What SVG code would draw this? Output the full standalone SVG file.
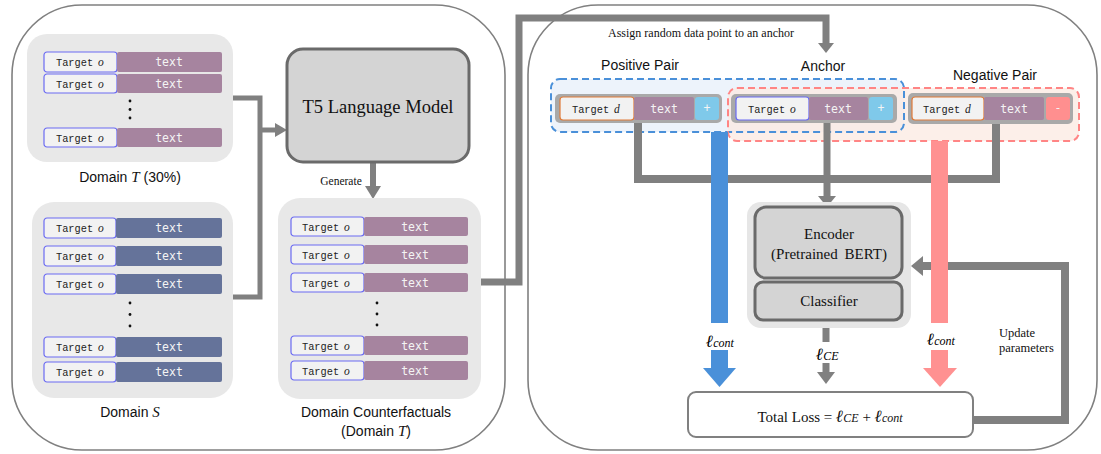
<svg xmlns="http://www.w3.org/2000/svg" width="1101" height="454" viewBox="0 0 1101 454">
<style>
.panel{fill:#fff;stroke:#808080;stroke-width:1.6}
.grp{fill:#e8e8e8}
.tgt{fill:#f2f2f2;stroke:#6b6bf2;stroke-width:1.2}
.tgtd{fill:#f2f2f2;stroke:#e07b39;stroke-width:1.2}
.pt{fill:#a6849f}
.bs{fill:#65739a}
.mono{font-family:"Liberation Mono","DejaVu Sans Mono",monospace;font-size:10.3px;fill:#222}
.it{font-family:"Liberation Serif",serif;font-style:italic;font-size:11.5px}
.wt{font-family:"DejaVu Sans Mono","Liberation Mono",monospace;font-size:11.5px;fill:#f4f4f4;text-anchor:middle}
.sans{font-family:"Liberation Sans",Arial,sans-serif;font-size:14px;fill:#111;text-anchor:middle}
.serif{font-family:"Liberation Serif","Times New Roman",serif;fill:#111;text-anchor:middle}
.conn{fill:none;stroke:#808080;stroke-linejoin:miter}
.ah{fill:#808080}
.model{fill:#d4d4d4;stroke:#6a6a6a;stroke-width:3}
.ell{font-family:"DejaVu Serif","Liberation Serif",serif;font-weight:bold;font-style:italic}
.sub{font-family:"Liberation Serif",serif;font-style:italic}
</style>

<!-- panels -->
<g id="left-panel"><rect class="panel" x="12" y="5" width="493" height="445" rx="70"/></g>
<g id="right-panel"><rect class="panel" x="528" y="5" width="569" height="445" rx="70"/></g>

<!-- pair boxes -->
<g id="pairs">
  <rect x="551" y="79" width="353" height="53" rx="9" fill="#edf3fb"/>
  <rect x="728" y="88" width="351" height="53" rx="9" fill="#fbe9e1" fill-opacity="0.75"/>
  <rect x="551" y="79" width="353" height="53" rx="9" fill="none" stroke="#4a90d9" stroke-width="2" stroke-dasharray="7 4"/>
  <rect x="728" y="88" width="351" height="53" rx="9" fill="none" stroke="#ff8585" stroke-width="2" stroke-dasharray="7 4"/>
  <text class="sans" x="640" y="70">Positive Pair</text>
  <text class="sans" x="823" y="71">Anchor</text>
  <text class="sans" x="995" y="80">Negative Pair</text>
</g>

<!-- connectors -->
<g id="connectors">
  <polyline class="conn" stroke-width="5" points="233,98 260,98 260,297 233,297"/>
  <line class="conn" stroke-width="5" x1="260" y1="130" x2="277" y2="130"/>
  <polygon class="ah" points="287,130 275,123 275,137"/>
  <line class="conn" stroke-width="6" x1="373" y1="162" x2="373" y2="188"/>
  <polygon class="ah" points="373,199 365,186 381,186"/>
  <polyline class="conn" stroke-width="7" points="468,282 519,282 519,18 826,18 826,44"/>
  <polygon class="ah" points="826,53 818,43 834,43"/>
  <polyline class="conn" stroke-width="8" points="638,120 638,179 996,179 996,120"/>
  <line class="conn" stroke-width="7" x1="827" y1="120" x2="827" y2="197"/>
  <polygon class="ah" points="827,207 818,196 836,196"/>
  <line class="conn" stroke-width="7" x1="826" y1="320" x2="826" y2="342"/>
  <line class="conn" stroke-width="7" x1="826" y1="363" x2="826" y2="373"/>
  <polygon class="ah" points="826,384 817,372 835,372"/>
  <polyline class="conn" stroke-width="8" points="973,420 1065,420 1065,266 922,266"/>
  <polygon class="ah" points="911,266 923,256 923,276"/>
  <!-- blue contrastive arrow -->
  <rect x="711" y="132" width="17" height="191" fill="#4a90d9"/>
  <rect x="711" y="350" width="17" height="19" fill="#4a90d9"/>
  <polygon points="703,368 736,368 719.5,387" fill="#4a90d9"/>
  <!-- red contrastive arrow -->
  <rect x="931" y="141" width="17" height="182" fill="#ff9191"/>
  <rect x="931" y="350" width="17" height="19" fill="#ff9191"/>
  <polygon points="923,368 957,368 940,387" fill="#ff9191"/>
</g>

<!-- Domain T -->
<g id="domain-t">
  <rect class="grp" x="27" y="34" width="206" height="128" rx="20"/>
  <g transform="translate(44,52)"><rect class="tgt" width="73" height="20" rx="3"/><rect class="pt" x="73" width="105" height="20" rx="2"/><text class="mono" x="12" y="14">Target<tspan class="it" x="54">o</tspan></text><text class="wt" x="125" y="14">text</text></g>
  <g transform="translate(44,74)"><rect class="tgt" width="73" height="19" rx="3"/><rect class="pt" x="73" width="105" height="19" rx="2"/><text class="mono" x="12" y="13.5">Target<tspan class="it" x="54">o</tspan></text><text class="wt" x="125" y="13.5">text</text></g>
  <circle cx="130" cy="101" r="1.4" fill="#111"/><circle cx="130" cy="109.5" r="1.4" fill="#111"/><circle cx="130" cy="118" r="1.4" fill="#111"/>
  <g transform="translate(44,128)"><rect class="tgt" width="73" height="19" rx="3"/><rect class="pt" x="73" width="105" height="19" rx="2"/><text class="mono" x="12" y="13.5">Target<tspan class="it" x="54">o</tspan></text><text class="wt" x="125" y="13.5">text</text></g>
  <text class="sans" x="130" y="182">Domain <tspan font-family="Liberation Serif,serif" font-style="italic" font-size="15">T</tspan> (30%)</text>
</g>

<!-- Domain S -->
<g id="domain-s">
  <rect class="grp" x="32" y="202" width="201" height="196" rx="22"/>
  <g transform="translate(44,218)"><rect class="tgt" width="72" height="20" rx="3"/><rect class="bs" x="72" width="106" height="20" rx="2"/><text class="mono" x="12" y="14">Target<tspan class="it" x="54">o</tspan></text><text class="wt" x="125" y="14">text</text></g>
  <g transform="translate(44,246)"><rect class="tgt" width="72" height="20" rx="3"/><rect class="bs" x="72" width="106" height="20" rx="2"/><text class="mono" x="12" y="14">Target<tspan class="it" x="54">o</tspan></text><text class="wt" x="125" y="14">text</text></g>
  <g transform="translate(44,274)"><rect class="tgt" width="72" height="20" rx="3"/><rect class="bs" x="72" width="106" height="20" rx="2"/><text class="mono" x="12" y="14">Target<tspan class="it" x="54">o</tspan></text><text class="wt" x="125" y="14">text</text></g>
  <circle cx="130" cy="303" r="1.4" fill="#111"/><circle cx="130" cy="314.5" r="1.4" fill="#111"/><circle cx="130" cy="326" r="1.4" fill="#111"/>
  <g transform="translate(44,337)"><rect class="tgt" width="72" height="20" rx="3"/><rect class="bs" x="72" width="106" height="20" rx="2"/><text class="mono" x="12" y="14">Target<tspan class="it" x="54">o</tspan></text><text class="wt" x="125" y="14">text</text></g>
  <g transform="translate(44,362)"><rect class="tgt" width="72" height="20" rx="3"/><rect class="bs" x="72" width="106" height="20" rx="2"/><text class="mono" x="12" y="14">Target<tspan class="it" x="54">o</tspan></text><text class="wt" x="125" y="14">text</text></g>
  <text class="sans" x="130" y="417">Domain <tspan font-family="Liberation Serif,serif" font-style="italic" font-size="15">S</tspan></text>
</g>

<!-- T5 -->
<g id="t5">
  <rect class="model" x="287" y="49" width="182" height="113" rx="16"/>
  <text class="serif" x="378" y="113" font-size="18.5">T5 Language Model</text>
  <text class="serif" x="341" y="185" font-size="11.5">Generate</text>
</g>

<!-- Counterfactuals -->
<g id="domain-cf">
  <rect class="grp" x="278" y="198" width="203" height="201" rx="22"/>
  <g transform="translate(291,217)"><rect class="tgt" width="73" height="19" rx="3"/><rect class="pt" x="73" width="104" height="19" rx="2"/><text class="mono" x="11" y="13.5">Target<tspan class="it" x="53">o</tspan></text><text class="wt" x="124" y="13.5">text</text></g>
  <g transform="translate(291,245)"><rect class="tgt" width="73" height="19" rx="3"/><rect class="pt" x="73" width="104" height="19" rx="2"/><text class="mono" x="11" y="13.5">Target<tspan class="it" x="53">o</tspan></text><text class="wt" x="124" y="13.5">text</text></g>
  <g transform="translate(291,273)"><rect class="tgt" width="73" height="19" rx="3"/><rect class="pt" x="73" width="104" height="19" rx="2"/><text class="mono" x="11" y="13.5">Target<tspan class="it" x="53">o</tspan></text><text class="wt" x="124" y="13.5">text</text></g>
  <circle cx="377" cy="303" r="1.4" fill="#111"/><circle cx="377" cy="314" r="1.4" fill="#111"/><circle cx="377" cy="325" r="1.4" fill="#111"/>
  <g transform="translate(291,336)"><rect class="tgt" width="73" height="19" rx="3"/><rect class="pt" x="73" width="104" height="19" rx="2"/><text class="mono" x="11" y="13.5">Target<tspan class="it" x="53">o</tspan></text><text class="wt" x="124" y="13.5">text</text></g>
  <g transform="translate(291,361)"><rect class="tgt" width="73" height="19" rx="3"/><rect class="pt" x="73" width="104" height="19" rx="2"/><text class="mono" x="11" y="13.5">Target<tspan class="it" x="53">o</tspan></text><text class="wt" x="124" y="13.5">text</text></g>
  <text class="sans" x="376" y="417">Domain Counterfactuals</text>
  <text class="sans" x="376" y="436">(Domain <tspan font-family="Liberation Serif,serif" font-style="italic" font-size="15">T</tspan>)</text>
</g>

<text class="serif" x="701" y="37" font-size="12">Assign random data point to an anchor</text>

<g id="positive-card">
  <rect x="555" y="94" width="167" height="29" rx="5" fill="#a9a9a9"/>
  <rect class="tgtd" x="560" y="97" width="74" height="23" rx="3"/>
  <rect class="pt" x="634" y="97" width="60" height="23" rx="2"/>
  <rect x="695" y="97" width="24" height="23" rx="3" fill="#7fc9ea"/>
  <text class="mono" x="572" y="113">Target<tspan class="it" x="614">d</tspan></text>
  <text class="wt" x="664" y="113">text</text>
  <text class="wt" x="707" y="112" font-size="10">+</text>
</g>

<g id="anchor-card">
  <rect x="731" y="94" width="166" height="29" rx="5" fill="#a9a9a9"/>
  <rect class="tgt" x="736" y="97" width="73" height="23" rx="3"/>
  <rect class="pt" x="809" y="97" width="59" height="23" rx="2"/>
  <rect x="869" y="97" width="24" height="23" rx="3" fill="#7fc9ea"/>
  <text class="mono" x="748" y="113">Target<tspan class="it" x="790">o</tspan></text>
  <text class="wt" x="838" y="113">text</text>
  <text class="wt" x="881" y="112" font-size="10">+</text>
</g>

<g id="negative-card">
  <rect x="908" y="93" width="165" height="31" rx="5" fill="#a9a9a9"/>
  <rect class="tgtd" x="912" y="97" width="72" height="23" rx="3"/>
  <rect class="pt" x="984" y="97" width="60" height="23" rx="2"/>
  <rect x="1046" y="97" width="24" height="23" rx="3" fill="#ff8f8f"/>
  <text class="mono" x="923" y="113">Target<tspan class="it" x="965">d</tspan></text>
  <text class="wt" x="1014" y="113">text</text>
  <text class="wt" x="1058" y="112" font-size="10">-</text>
</g>

<g id="encoder">
  <rect x="747" y="202" width="164" height="126" rx="14" fill="#e6e6e6"/>
  <rect class="model" x="755" y="207" width="147" height="71" rx="11"/>
  <text class="serif" x="829" y="239" font-size="15">Encoder</text>
  <text class="serif" x="829" y="259" font-size="15" word-spacing="3">(Pretrained BERT)</text>
</g>
<g id="classifier">
  <rect class="model" x="755" y="282" width="147" height="38" rx="8"/>
  <text class="serif" x="829" y="306" font-size="15">Classifier</text>
</g>

<g id="loss-labels">
  <text x="706" y="347"><tspan class="ell" font-size="17">ℓ</tspan><tspan class="sub" font-size="12">cont</tspan></text>
  <text x="816" y="360"><tspan class="ell" font-size="17">ℓ</tspan><tspan class="sub" font-size="12">CE</tspan></text>
  <text x="927" y="345"><tspan class="ell" font-size="17">ℓ</tspan><tspan class="sub" font-size="12">cont</tspan></text>
</g>

<g id="total-loss">
  <rect x="688" y="392" width="285" height="45" rx="8" fill="#fff" stroke="#808080" stroke-width="2"/>
  <text x="830" y="422" text-anchor="middle" font-family="Liberation Serif,serif" font-size="15" fill="#111">Total Loss = <tspan class="ell" font-size="17">ℓ</tspan><tspan class="sub" font-size="12">CE</tspan> + <tspan class="ell" font-size="17">ℓ</tspan><tspan class="sub" font-size="12">cont</tspan></text>
</g>

<g id="update">
  <text font-family="Liberation Serif,serif" font-size="12.5" fill="#111"><tspan x="999" y="337">Update</tspan><tspan x="999" y="352">parameters</tspan></text>
</g>
</svg>
